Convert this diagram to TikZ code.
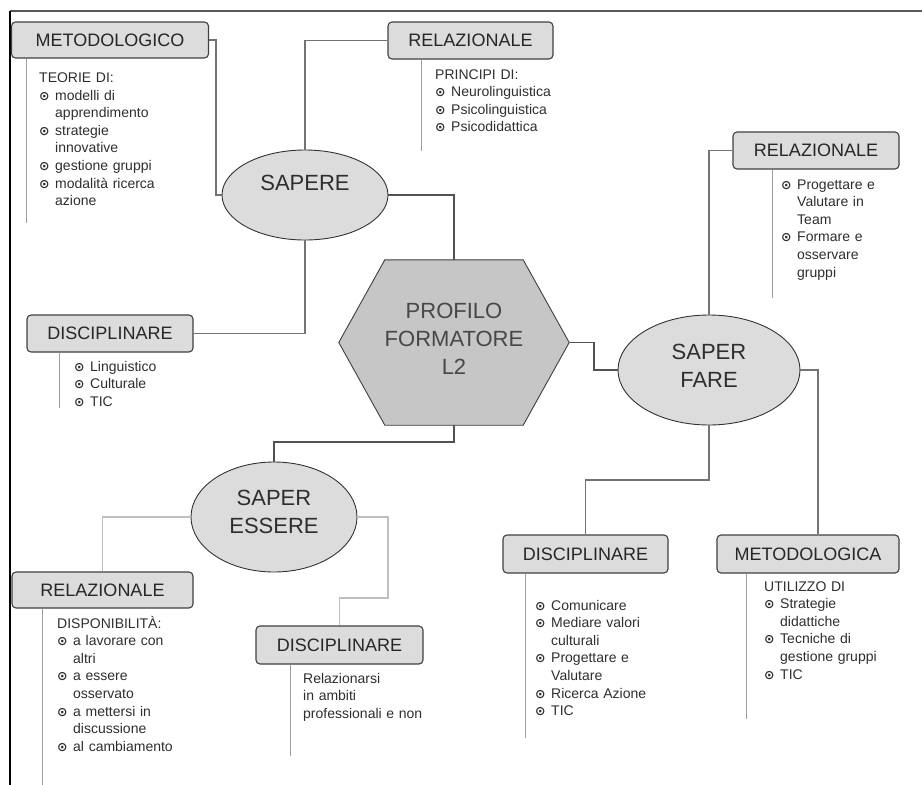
\documentclass[tikz,border=0pt]{standalone}
\usepackage{fontspec}
\setmainfont{Liberation Sans}
\newfontfamily\symf{DejaVu Sans}
\usetikzlibrary{shapes.geometric,calc}
\setlength{\parindent}{0pt}
\definecolor{boxfill}{HTML}{DCDCDC}
\definecolor{hexfill}{HTML}{C6C6C6}
\definecolor{shadowc}{HTML}{8A8A8A}
\newcommand\bul{\makebox[16pt][l]{\symf\bfseries\fontsize{12.5}{12}\selectfont ⊙}}
\newcommand\ind{\hspace*{16pt}}
\begin{document}
\begin{tikzpicture}[x=1pt,y=-1pt,
  boxn/.style={draw=black!75, fill=boxfill, rounded corners=4pt, line width=1.1pt, inner sep=0pt, font=\fontsize{18}{20}\selectfont, text=black!85},
  elln/.style={ellipse, draw=black!80, fill=boxfill, line width=0.9pt, inner sep=0pt},
  bigtxt/.style={font=\fontsize{22}{28}\selectfont, text=black!82, align=center, inner sep=0pt},
  txt/.style={anchor=north west, inner sep=0pt, text width=180pt, align=left, font=\fontsize{14}{17.6}\selectfont, text=black!82},
  conn/.style={draw=black!55, line width=1.1pt},
  hconn/.style={draw=black!68, line width=1.2pt},
  lconn/.style={draw=black!25, line width=1.2pt},
  sub/.style={draw=black!38, line width=1.3pt}]
\useasboundingbox (0,0) rectangle (922,785);
% frame
\coordinate (fTL) at (10,11);
\coordinate (fTR) at (922,11);
\coordinate (fBL) at (10,785);
\draw[black!65, line width=1.5pt] (fTL) -- (fTR);
\draw[black, line width=1.3pt] (fTL) -- (fBL);

% hexagon
\node[minimum width=230pt, minimum height=165pt, inner sep=0pt] (hex) at (454,342.5) {};
\fill[shadowc, shift={(8,12)}] ($(hex.north west)+(46,0)$) -- ($(hex.north east)+(-46,0)$) -- (hex.east) -- ($(hex.south east)+(-46,0)$) -- ($(hex.south west)+(46,0)$) -- (hex.west) -- cycle;
\draw[fill=hexfill, draw=black!75, line width=0.9pt] ($(hex.north west)+(46,0)$) -- ($(hex.north east)+(-46,0)$) -- (hex.east) -- ($(hex.south east)+(-46,0)$) -- ($(hex.south west)+(46,0)$) -- (hex.west) -- cycle;
\node[bigtxt, text=black!72] (hexT) at (454,338.5) {PROFILO\\FORMATORE\\L2};

% ellipses
\node[elln, minimum width=166pt, minimum height=90pt] (sapere) at (305,195) {};
\node[bigtxt] (sapereT) at (305,183) {SAPERE};
\node[elln, minimum width=182pt, minimum height=110pt] (fare) at (709,370) {};
\node[bigtxt] (fareT) at (709,366) {SAPER\\FARE};
\node[elln, minimum width=166pt, minimum height=110pt] (essere) at (274,517) {};
\node[bigtxt] (essereT) at (274,511.5) {SAPER\\ESSERE};

% boxes
\node[boxn, minimum width=197pt, minimum height=36pt] (metA) at (110,40) {METODOLOGICO};
\node[boxn, minimum width=165pt, minimum height=37pt] (relA) at (470.5,40.5) {RELAZIONALE};
\node[boxn, minimum width=166pt, minimum height=37pt] (relB) at (816,150.5) {RELAZIONALE};
\node[boxn, minimum width=166pt, minimum height=37pt] (disA) at (110,333.5) {DISCIPLINARE};
\node[boxn, minimum width=181pt, minimum height=36pt] (relC) at (102.5,590) {RELAZIONALE};
\node[boxn, minimum width=167pt, minimum height=38pt] (disB) at (339.5,645) {DISCIPLINARE};
\node[boxn, minimum width=165pt, minimum height=38pt] (disC) at (585.5,554) {DISCIPLINARE};
\node[boxn, minimum width=182pt, minimum height=38pt] (metB) at (808,554) {METODOLOGICA};

% connectors
\draw[conn] (metA.east) -- (216,40) |- (sapere.west);
\draw[conn] (sapere.north) |- (relA.west);
\draw[hconn] (sapere.east) -| (hex.north);
\draw[conn] (sapere.south) |- (disA.east);
\draw[hconn] (hex.east) -- (594,342.5) |- (fare.west);
\draw[conn] (fare.north) |- (relB.west);
\draw[conn] (fare.south) -- (709,480) -| (disC.north);
\draw[conn] (fare.east) -| ($(metB.north)+(10,0)$);
\draw[hconn] (hex.south) -- (454,442) -| (essere.north);
\draw[lconn] (essere.west) -| (relC.north);
\draw[lconn] (essere.east) -- (388,517) -- (388,598) -| (disB.north);

% sub lines
\draw[sub] (metA.south west) ++(15.5,0) -- ++(0,164);
\draw[sub] (relA.south west) ++(34,0) -- ++(0,91);
\draw[sub] (relB.south west) ++(40,0) -- ++(0,128);
\draw[sub] (disA.south west) ++(33,0) -- ++(0,55);
\draw[sub] (relC.south west) ++(31,0) -- ++(0,177);
\draw[sub] (disB.south west) ++(35,0) -- ++(0,91);
\draw[sub] (disC.south west) ++(23,0) -- ++(0,164);
\draw[sub] (metB.south west) ++(30,0) -- ++(0,145);

% texts
\node[txt] (tA) at (39,70) {\strut TEORIE DI:\\ \bul modelli di\\ \ind apprendimento\\ \bul strategie\\ \ind innovative\\ \bul gestione gruppi\\ \bul modalità ricerca\\ \ind azione};
\node[txt] (tB) at (435,66.5) {\strut PRINCIPI DI:\\ \bul Neurolinguistica\\ \bul Psicolinguistica\\ \bul Psicodidattica};
\node[txt] (tC) at (781,176.5) {\strut\bul Progettare e\\ \ind Valutare in\\ \ind Team\\ \bul Formare e\\ \ind osservare\\ \ind gruppi};
\node[txt] (tD) at (74,358.5) {\strut\bul Linguistico\\ \bul Culturale\\ \bul TIC};
\node[txt] (tE) at (57,615.5) {\strut DISPONIBILITÀ:\\ \bul a lavorare con\\ \ind altri\\ \bul a essere\\ \ind osservato\\ \bul a mettersi in\\ \ind discussione\\ \bul al cambiamento};
\node[txt] (tF) at (303,670.5) {\strut Relazionarsi\\ in ambiti\\ professionali e non};
\node[txt] (tG) at (535,597.5) {\strut\bul Comunicare\\ \bul Mediare valori\\ \ind culturali\\ \bul Progettare e\\ \ind Valutare\\ \bul Ricerca Azione\\ \bul TIC};
\node[txt] (tH) at (764,578.5) {\strut UTILIZZO DI\\ \bul Strategie\\ \ind didattiche\\ \bul Tecniche di\\ \ind gestione gruppi\\ \bul TIC};
\end{tikzpicture}
\end{document}
